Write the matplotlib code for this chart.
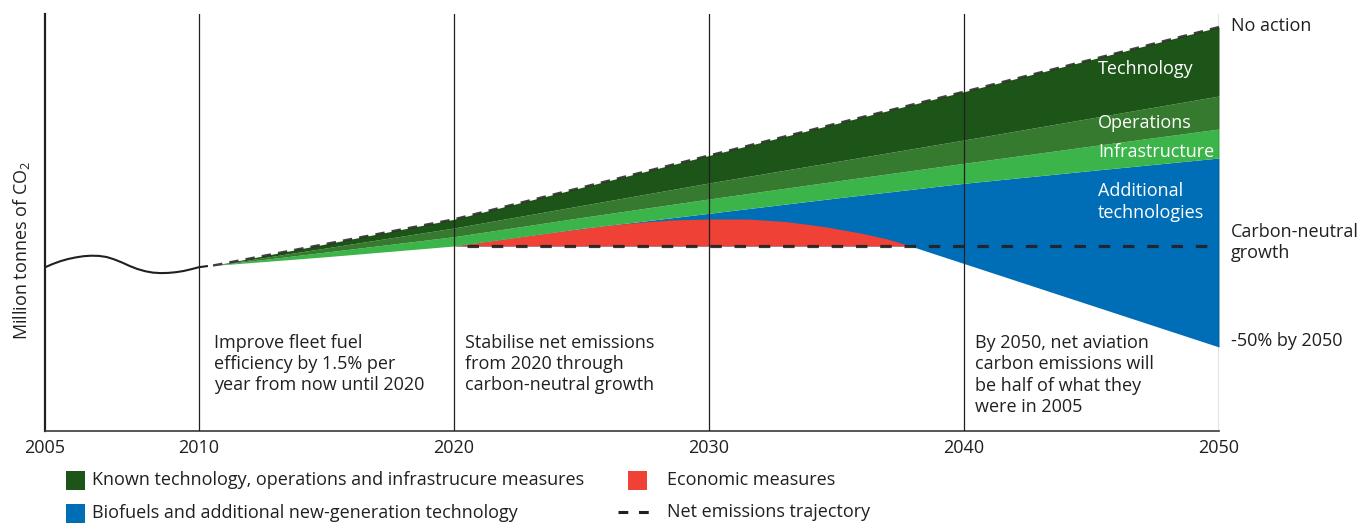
import numpy as np
import matplotlib
matplotlib.use("Agg")
import matplotlib.pyplot as plt
from matplotlib.patches import Rectangle
from matplotlib.lines import Line2D

plt.rcParams['font.family'] = ['Open Sans', 'DejaVu Sans']
plt.rcParams['mathtext.default'] = 'regular'

# ---------------- data (arbitrary emission units, no y ticks in source) -------------
hist_years = [2005.0, 2005.25, 2005.5, 2005.75, 2006.0, 2006.25, 2006.5, 2006.75, 2007.0,
              2007.25, 2007.5, 2007.75, 2008.0, 2008.25, 2008.5, 2008.75, 2009.0,
              2009.25, 2009.5, 2009.75, 2010.0, 2010.35]
hist_vals = [163.7, 167.0, 169.8, 172.0, 173.6, 174.8, 175.3, 175.1, 174.0,
             171.6, 168.5, 165.0, 162.0, 159.8, 158.4, 157.9, 158.1,
             158.8, 160.0, 161.8, 163.8, 165.0]

proj_years = [2010.55, 2015, 2020, 2025, 2030, 2035, 2040, 2045, 2050]
no_action = [165.5, 187.2, 211.7, 243.5, 275.5, 307.5, 339.3, 371.5, 404.0]
after_technology = [165.5, 183.1, 203.0, 225.5, 248.0, 269.5, 291.0, 313.0, 335.0]
after_operations = [165.5, 179.0, 194.3, 213.5, 232.0, 250.0, 267.7, 285.0, 302.0]
after_infrastructure = [165.5, 174.3, 185.0, 202.5, 217.7, 233.0, 247.7, 260.5, 273.0]

carbon_neutral = 185.0
econ_years = [2020, 2022, 2024, 2026, 2027, 2028.5, 2030, 2031.5, 2033, 2034.5, 2036, 2037, 2037.9]
econ_top = [185.0, 192.0, 199.0, 205.5, 208.0, 211.0, 212.0, 212.0, 209.5, 204.5, 197.7, 192.0, 185.0]

net_years = [2020, 2037.9, 2050]
net_vals = [185.0, 185.0, 84.0]

xtick_years = [2005, 2010, 2020, 2030, 2040, 2050]
xtick_labels = ['2005', '2010', '2020', '2030', '2040', '2050']

legend_items = ['Known technology, operations and infrastrucure measures',
                'Economic measures',
                'Biofuels and additional new-generation technology',
                'Net emissions trajectory']

C_TECH = '#1c5517'
C_OPS = '#357a2e'
C_INFRA = '#3bb44a'
C_BLUE = '#006eb7'
C_RED = '#ef4136'
C_TXT = '#231f20'

# ---------------- figure ----------------
W, H = 1361, 524
fig = plt.figure(figsize=(W / 100, H / 100), dpi=100)
L, R, B, T = 45, 1219, 431, 14
ax = fig.add_axes([L / W, 1 - B / H, (R - L) / W, (B - T) / H])

k = 30.8 / 25.5
def fwd(x):
    x = np.asarray(x, float)
    return np.where(x < 2010, 2010 - (2010 - x) * k, x)
def inv(t):
    t = np.asarray(t, float)
    return np.where(t < 2010, 2010 - (2010 - t) / k, t)
ax.set_xscale('function', functions=(fwd, inv))
ax.set_xlim(2005, 2050)
ax.set_ylim(0, 417)

# blue: additional technologies
grid = np.unique(np.concatenate([[y for y in proj_years if y >= 2020], net_years]))
ax.fill_between(grid, np.interp(grid, proj_years, after_infrastructure),
                np.interp(grid, net_years, net_vals), color=C_BLUE, lw=0, zorder=1)
# red: economic measures
ax.fill_between(econ_years, carbon_neutral, econ_top, color=C_RED, lw=0, zorder=2)
# greens
ax.fill_between(proj_years, after_infrastructure, after_operations, color=C_INFRA, lw=0, zorder=3)
ax.fill_between(proj_years, after_operations, after_technology, color=C_OPS, lw=0, zorder=3)
ax.fill_between(proj_years, after_technology, no_action, color=C_TECH, lw=0, zorder=3)

# lines
ax.plot(hist_years, hist_vals, color=C_TXT, lw=1.5, zorder=5, solid_capstyle='butt')
ax.plot(proj_years, no_action, color=C_TXT, lw=1.7, dashes=(4, 3), zorder=5, alpha=0.85)
ax.plot([2020.5, 2050], [carbon_neutral, carbon_neutral], color=C_TXT, lw=2.3,
        dashes=(3.6, 4.0), zorder=5, alpha=0.9)

for yr in [2010, 2020, 2030, 2040, 2050]:
    ax.axvline(yr, color=C_TXT, lw=0.9, zorder=4)

# spines / ticks
for s in ['top', 'right']:
    ax.spines[s].set_visible(False)
ax.spines['left'].set_linewidth(1.6)
ax.spines['left'].set_color(C_TXT)
ax.spines['bottom'].set_linewidth(1.2)
ax.spines['bottom'].set_color('#3a3a3a')
ax.set_yticks([])
ax.set_xticks(xtick_years)
ax.set_xticklabels(xtick_labels)
fs = 13
ax.tick_params(axis='x', length=0, pad=6, labelsize=fs, labelcolor=C_TXT)
ax.set_facecolor('none')

# band labels
bx = 2045.25
ax.text(bx, 361.5, 'Technology', color='white', fontsize=fs, va='center', ha='left', zorder=6)
ax.text(bx, 308, 'Operations', color='white', fontsize=fs, va='center', ha='left', zorder=6)
ax.text(bx, 279, 'Infrastructure', color='white', fontsize=fs, va='center', ha='left', zorder=6)
ax.text(bx, 229, 'Additional\ntechnologies', color='white', fontsize=fs, va='center', ha='left',
        linespacing=1.27, zorder=6)

# right-side labels
def rlabel(y, s):
    ax.annotate(s, xy=(2050, y), xytext=(12, 0), textcoords='offset pixels',
                va='center', ha='left', fontsize=fs, color=C_TXT, annotation_clip=False,
                linespacing=1.27)
rlabel(405, 'No action')
rlabel(188.5, 'Carbon-neutral\ngrowth')
rlabel(90, '-50% by 2050')

# phase annotations
ls = 1.25
ax.text(2010.59, 67, 'Improve fleet fuel\nefficiency by 1.5% per\nyear from now until 2020',
        fontsize=fs, color=C_TXT, va='center', ha='left', linespacing=ls)
ax.text(2020.45, 67, 'Stabilise net emissions\nfrom 2020 through\ncarbon-neutral growth',
        fontsize=fs, color=C_TXT, va='center', ha='left', linespacing=ls)
ax.text(2040.45, 56, 'By 2050, net aviation\ncarbon emissions will\nbe half of what they\nwere in 2005',
        fontsize=fs, color=C_TXT, va='center', ha='left', linespacing=ls)

# y label
fig.text(22 / W, 1 - 250 / H, 'Million tonnes of CO$_2$', rotation=90, ha='center', va='center',
         fontsize=fs, color=C_TXT)

# legend (manual)
def fx(px):
    return px / W
def fy(py):
    return 1 - py / H
sq = 19
for (x0, yc, col) in [(66, 480, C_TECH), (628, 480, C_RED), (66, 513, C_BLUE)]:
    fig.add_artist(Rectangle((fx(x0), fy(yc + sq / 2)), sq / W, sq / H,
                             transform=fig.transFigure, color=col, lw=0))
fig.text(fx(92), fy(480), legend_items[0], fontsize=fs, color=C_TXT, va='center', ha='left')
fig.text(fx(667), fy(480), legend_items[1], fontsize=fs, color=C_TXT, va='center', ha='left')
fig.text(fx(92), fy(513), legend_items[2], fontsize=fs, color=C_TXT, va='center', ha='left')
fig.add_artist(Line2D([fx(618), fx(657)], [fy(512), fy(512)], transform=fig.transFigure,
                      color=C_TXT, lw=2.2, dashes=(3.2, 3.5)))
fig.text(fx(667), fy(512), legend_items[3], fontsize=fs, color=C_TXT, va='center', ha='left')

fig.savefig('out.png', dpi=100)
